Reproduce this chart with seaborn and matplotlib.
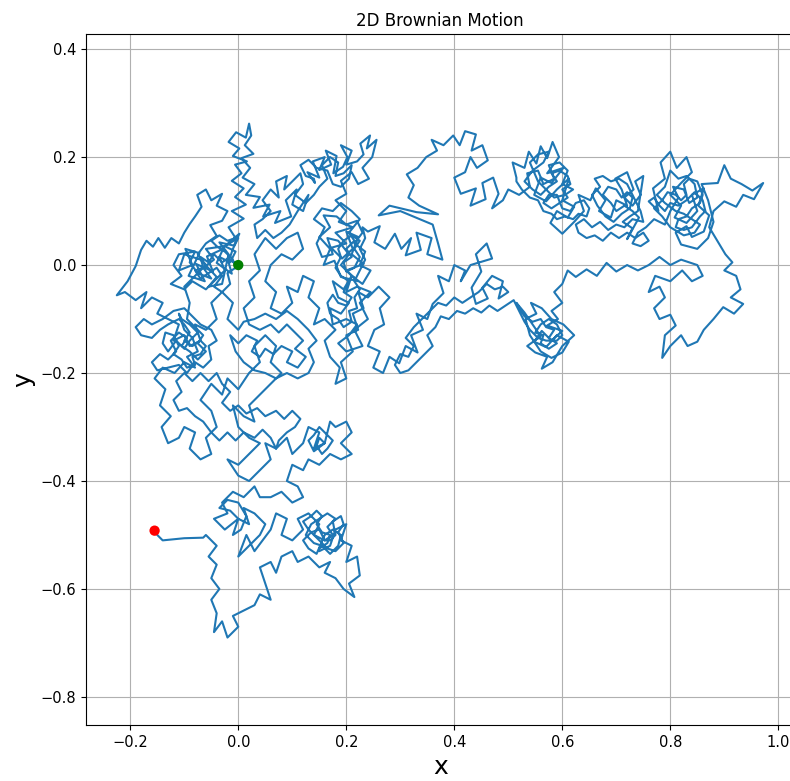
import numpy as np
import pandas as pd
import matplotlib
matplotlib.use("Agg")
import matplotlib.pyplot as plt
import seaborn as sns

# Path, in segments of (x, y), from start (green) to end (red)
seg_start = [(0.0,0.0),(-0.02,0.012),(-0.012,-0.016),(-0.04,0.004),(-0.028,0.03),(-0.058,0.016),(-0.047,-0.012),(-0.078,0.002),(-0.062,-0.03),(-0.092,-0.02),(-0.072,0.022),(-0.098,0.03),(-0.085,0.0),(-0.11,-0.01),(-0.1,0.02),(-0.07,0.01),(-0.04,-0.022),(-0.055,-0.04),(-0.03,-0.035),(-0.018,0.02),(-0.035,0.042),(-0.008,0.036),(0.002,0.058)]
cluster_a = [(-0.025,0.035),(-0.06,0.03),(-0.045,0.01),(-0.065,-0.005),(-0.05,-0.025),(-0.075,-0.015),(-0.09,0.005),(-0.08,0.025),(-0.11,0.02),(-0.12,0.0),(-0.105,-0.02),(-0.125,-0.035),(-0.1,-0.045),(-0.085,-0.03),(-0.06,-0.045),(-0.045,-0.03),(-0.025,-0.01),(-0.035,0.015),(-0.015,0.005),(-0.005,0.025),(-0.025,0.035),(0.0,0.05)]
dense_green = [(-0.01,0.03),(-0.015,0.015),(-0.03,0.005),(-0.045,0.02),(-0.055,0.005),(-0.07,0.015),(-0.065,-0.005),(-0.08,-0.01),(-0.07,-0.025),(-0.055,-0.015),(-0.04,-0.005),(-0.03,-0.02),(-0.045,-0.04),(-0.03,-0.05),(-0.015,-0.035),(-0.02,-0.015),(-0.005,-0.005),(-0.01,0.01),(-0.025,0.025),(-0.04,0.035),(-0.05,0.045),(-0.035,0.055),(-0.02,0.045),(-0.005,0.05)]
seg_arm = [(-0.018,0.07),(0.01,0.086),(-0.012,0.1),(0.014,0.112),(-0.006,0.126),(0.01,0.142),(-0.012,0.156),(0.006,0.17),(-0.006,0.186),(0.016,0.192),(-0.01,0.202),(0.002,0.216),(-0.018,0.228),(-0.004,0.246),(0.014,0.236),(0.02,0.262),(0.024,0.24),(0.012,0.222),(0.028,0.206),(0.006,0.198),(0.022,0.18),(0.008,0.162),(0.03,0.15),(0.014,0.13),(0.04,0.126),(0.028,0.106),(0.058,0.112),(0.046,0.09),(0.078,0.1),(0.068,0.078),(0.098,0.09),(0.088,0.12),(0.108,0.14),(0.1,0.112),(0.12,0.1),(0.13,0.13)]
cluster_junction = [(0.11,0.1),(0.095,0.075),(0.08,0.06),(0.065,0.05),(0.05,0.065),(0.035,0.05),(0.03,0.075),(0.045,0.085),(0.06,0.1),(0.045,0.12),(0.06,0.14),(0.075,0.125),(0.07,0.155),(0.09,0.165),(0.085,0.14),(0.1,0.155),(0.115,0.17),(0.12,0.15),(0.105,0.13),(0.125,0.115),(0.14,0.13)]
cluster_c = [(0.15,0.145),(0.165,0.16),(0.155,0.185),(0.17,0.2),(0.185,0.19),(0.18,0.165),(0.195,0.17),(0.21,0.185),(0.205,0.16),(0.19,0.145),(0.175,0.15),(0.165,0.175),(0.145,0.18),(0.13,0.195),(0.115,0.185),(0.125,0.165),(0.14,0.16)]
seg_topcenter = [(0.142,0.152),(0.128,0.172),(0.15,0.162),(0.138,0.192),(0.16,0.2),(0.15,0.176),(0.172,0.186),(0.162,0.212),(0.182,0.202),(0.176,0.17),(0.194,0.182),(0.202,0.2),(0.19,0.222),(0.21,0.212),(0.2,0.186),(0.22,0.192),(0.232,0.205),(0.226,0.225),(0.244,0.24),(0.238,0.216),(0.256,0.232),(0.248,0.2),(0.23,0.18),(0.242,0.16),(0.222,0.15),(0.21,0.172),(0.19,0.156),(0.2,0.132),(0.18,0.12),(0.2,0.1),(0.186,0.08),(0.212,0.07),(0.18,0.06),(0.2,0.04),(0.172,0.032),(0.192,0.012),(0.212,0.03),(0.2,0.062),(0.222,0.052),(0.21,0.02),(0.232,0.002),(0.2,-0.01),(0.222,-0.03),(0.19,-0.022),(0.178,0.008),(0.158,0.0),(0.17,0.03),(0.15,0.052),(0.17,0.07),(0.158,0.092),(0.182,0.09),(0.2,0.075),(0.22,0.082)]
cluster_b = [(0.23,0.06),(0.215,0.04),(0.235,0.025),(0.225,0.0),(0.245,-0.01),(0.23,-0.035),(0.21,-0.02),(0.195,-0.045),(0.175,-0.03),(0.185,-0.06),(0.205,-0.07),(0.19,-0.09),(0.17,-0.08),(0.175,-0.11),(0.2,-0.1),(0.22,-0.11),(0.205,-0.13),(0.185,-0.145),(0.2,-0.16),(0.23,-0.15),(0.215,-0.12),(0.24,-0.1),(0.225,-0.07),(0.245,-0.05),(0.22,-0.04),(0.2,-0.05),(0.21,-0.02),(0.19,0.0),(0.205,0.02),(0.185,0.045),(0.165,0.05),(0.175,0.02),(0.155,0.015),(0.145,0.04),(0.16,0.07),(0.14,0.085),(0.155,0.105),(0.175,0.1),(0.19,0.115),(0.21,0.1),(0.225,0.085)]
dense_column = [(0.205,0.06),(0.215,0.045),(0.2,0.03),(0.21,0.015),(0.195,0.005),(0.2,-0.012),(0.215,-0.005),(0.225,0.015),(0.215,0.03),(0.225,0.045),(0.21,0.055),(0.195,0.045),(0.185,0.03),(0.19,0.015),(0.18,-0.005),(0.19,-0.02),(0.205,-0.03),(0.195,-0.05),(0.21,-0.06),(0.2,-0.075),(0.185,-0.07),(0.175,-0.055),(0.165,-0.07),(0.17,-0.09),(0.185,-0.1),(0.195,-0.115),(0.21,-0.105),(0.205,-0.085),(0.22,-0.08),(0.215,-0.06),(0.225,-0.045),(0.215,-0.03),(0.225,-0.01),(0.235,0.01),(0.225,0.03),(0.235,0.05),(0.23,0.07)]
seg_east = [(0.24,0.062),(0.262,0.072),(0.252,0.042),(0.272,0.03),(0.29,0.058),(0.302,0.03),(0.32,0.05),(0.31,0.018),(0.338,0.028),(0.33,0.06),(0.358,0.05),(0.35,0.02),(0.378,0.01),(0.37,0.04),(0.36,0.075),(0.3,0.1),(0.26,0.092),(0.28,0.11),(0.33,0.098),(0.37,0.094),(0.335,0.11),(0.315,0.125),(0.325,0.148),(0.312,0.168),(0.332,0.18),(0.348,0.2),(0.368,0.212),(0.358,0.232),(0.38,0.222),(0.398,0.24),(0.41,0.222),(0.42,0.248),(0.44,0.242),(0.432,0.212),(0.452,0.222),(0.462,0.194),(0.442,0.18),(0.43,0.2),(0.42,0.172),(0.4,0.162),(0.412,0.132),(0.44,0.142),(0.43,0.11),(0.458,0.122),(0.452,0.152),(0.472,0.162),(0.482,0.132),(0.47,0.105),(0.49,0.12),(0.5,0.14)]
cluster_d = [(0.52,0.13),(0.54,0.145),(0.535,0.17),(0.555,0.175),(0.565,0.15),(0.585,0.16),(0.575,0.185),(0.595,0.19),(0.61,0.175),(0.6,0.15),(0.62,0.14),(0.605,0.13),(0.585,0.125),(0.57,0.14),(0.555,0.155),(0.54,0.19),(0.555,0.205),(0.575,0.21),(0.565,0.19),(0.545,0.175),(0.53,0.155)]
dense_right = [(0.545,0.14),(0.56,0.13),(0.575,0.145),(0.59,0.155),(0.58,0.17),(0.595,0.175),(0.61,0.165),(0.615,0.15),(0.6,0.14),(0.61,0.125),(0.595,0.115),(0.58,0.105),(0.565,0.115),(0.575,0.13),(0.59,0.13),(0.6,0.105),(0.615,0.1),(0.625,0.115),(0.64,0.12),(0.65,0.105),(0.645,0.09),(0.63,0.095),(0.62,0.085),(0.605,0.09),(0.59,0.085),(0.58,0.095),(0.565,0.1),(0.555,0.12),(0.54,0.125),(0.525,0.14),(0.515,0.155)]
seg_right = [(0.515,0.162),(0.508,0.19),(0.53,0.18),(0.538,0.21),(0.552,0.188),(0.56,0.22),(0.572,0.198),(0.582,0.228),(0.594,0.2),(0.572,0.17),(0.602,0.18),(0.58,0.152),(0.56,0.162),(0.548,0.13),(0.57,0.118),(0.59,0.14),(0.612,0.16),(0.6,0.12),(0.622,0.108),(0.61,0.088),(0.59,0.1),(0.578,0.078),(0.6,0.058),(0.622,0.08),(0.64,0.1),(0.63,0.13),(0.652,0.12),(0.662,0.142),(0.68,0.12),(0.668,0.1),(0.69,0.088),(0.7,0.12),(0.72,0.11),(0.71,0.14),(0.698,0.16),(0.72,0.172),(0.732,0.14),(0.715,0.125),(0.73,0.11),(0.745,0.13),(0.735,0.155),(0.75,0.165),(0.74,0.1),(0.725,0.09),(0.712,0.08),(0.73,0.068),(0.72,0.048),(0.742,0.088)]
dense_mid_right = [(0.73,0.1),(0.715,0.11),(0.7,0.1),(0.69,0.115),(0.675,0.13),(0.685,0.145),(0.7,0.14),(0.71,0.125),(0.72,0.135),(0.73,0.125),(0.725,0.105),(0.71,0.095),(0.695,0.08),(0.68,0.09),(0.665,0.11),(0.655,0.13),(0.67,0.145),(0.66,0.16),(0.675,0.165),(0.69,0.155),(0.705,0.16),(0.72,0.15),(0.735,0.12),(0.745,0.1),(0.75,0.08)]
fill_mid_right = [(0.73,0.085),(0.715,0.07),(0.7,0.075),(0.685,0.065),(0.67,0.08),(0.655,0.07),(0.64,0.085),(0.625,0.075),(0.63,0.06),(0.645,0.05),(0.66,0.055),(0.675,0.045),(0.69,0.06),(0.705,0.05),(0.72,0.06),(0.735,0.05),(0.75,0.06),(0.76,0.045),(0.745,0.035),(0.73,0.04),(0.74,0.06)]
cluster_e = [(0.755,0.07),(0.77,0.085),(0.79,0.075),(0.8,0.1),(0.815,0.125),(0.805,0.145),(0.825,0.14),(0.835,0.115),(0.85,0.125),(0.845,0.15),(0.83,0.165),(0.815,0.16),(0.8,0.175),(0.79,0.145),(0.775,0.13),(0.79,0.115),(0.81,0.1),(0.825,0.095),(0.84,0.085),(0.855,0.075),(0.845,0.06),(0.825,0.055),(0.8,0.07),(0.785,0.09),(0.77,0.105)]
dense_far = [(0.785,0.12),(0.795,0.135),(0.81,0.13),(0.82,0.12),(0.83,0.13),(0.825,0.15),(0.835,0.16),(0.85,0.155),(0.86,0.13),(0.855,0.115),(0.84,0.105),(0.83,0.09),(0.815,0.085),(0.81,0.07),(0.825,0.065),(0.84,0.07),(0.855,0.09),(0.865,0.1),(0.86,0.12),(0.845,0.135),(0.83,0.12),(0.815,0.11),(0.8,0.115),(0.79,0.1),(0.78,0.11),(0.77,0.125)]
seg_far_right = [(0.76,0.118),(0.778,0.1),(0.768,0.142),(0.79,0.16),(0.782,0.19),(0.8,0.21),(0.812,0.18),(0.83,0.2),(0.84,0.172),(0.82,0.152),(0.8,0.13),(0.82,0.11),(0.808,0.088),(0.83,0.078),(0.85,0.1),(0.84,0.13),(0.862,0.142),(0.852,0.11),(0.872,0.092),(0.862,0.062),(0.84,0.052),(0.83,0.072),(0.81,0.06),(0.82,0.038),(0.85,0.03),(0.87,0.05),(0.88,0.08),(0.87,0.12),(0.858,0.15),(0.888,0.152),(0.9,0.185),(0.912,0.16),(0.932,0.15),(0.952,0.138),(0.972,0.152),(0.955,0.122),(0.935,0.13),(0.922,0.108),(0.9,0.118),(0.88,0.1),(0.872,0.07),(0.89,0.04)]
seg_down_right = [(0.902,0.02),(0.915,0.005),(0.9,-0.01),(0.922,-0.02),(0.93,-0.045),(0.912,-0.06),(0.935,-0.072),(0.918,-0.09),(0.898,-0.078),(0.88,-0.1),(0.862,-0.12),(0.85,-0.142),(0.832,-0.15),(0.82,-0.13),(0.8,-0.15),(0.785,-0.172),(0.79,-0.13),(0.81,-0.112),(0.8,-0.092),(0.78,-0.1),(0.77,-0.08),(0.79,-0.06),(0.78,-0.04),(0.76,-0.05),(0.772,-0.02),(0.8,-0.03),(0.822,-0.01),(0.84,-0.03),(0.86,-0.02),(0.85,0.0),(0.82,0.01),(0.8,0.0),(0.78,0.015),(0.76,0.0),(0.74,-0.01)]
seg_link = [(0.72,0.0),(0.7,-0.012),(0.682,0.004),(0.664,-0.02),(0.645,-0.008),(0.625,-0.022),(0.61,-0.01),(0.6,-0.035),(0.585,-0.05),(0.6,-0.07),(0.58,-0.085)]
seg_low_center = [(0.592,-0.1),(0.572,-0.112),(0.6,-0.122),(0.58,-0.14),(0.562,-0.122),(0.548,-0.142),(0.57,-0.152),(0.59,-0.13),(0.612,-0.142),(0.6,-0.162),(0.58,-0.172),(0.56,-0.16),(0.54,-0.13),(0.532,-0.1),(0.552,-0.09),(0.542,-0.07),(0.562,-0.08),(0.58,-0.1),(0.602,-0.11),(0.622,-0.13),(0.6,-0.15),(0.582,-0.18),(0.562,-0.192),(0.572,-0.17),(0.55,-0.162),(0.535,-0.15),(0.56,-0.132),(0.545,-0.11),(0.53,-0.088),(0.515,-0.07)]
dense_low_center = [(0.53,-0.095),(0.545,-0.105),(0.56,-0.1),(0.57,-0.115),(0.585,-0.12),(0.575,-0.135),(0.59,-0.145),(0.575,-0.155),(0.56,-0.145),(0.565,-0.13),(0.55,-0.125),(0.56,-0.11),(0.575,-0.1),(0.59,-0.11),(0.6,-0.13),(0.59,-0.14),(0.57,-0.14),(0.555,-0.135),(0.54,-0.12),(0.53,-0.105),(0.52,-0.085),(0.51,-0.065)]
fill_east_low = [(0.495,-0.075),(0.48,-0.085),(0.465,-0.075),(0.45,-0.088),(0.435,-0.08),(0.42,-0.09),(0.405,-0.085),(0.39,-0.1),(0.375,-0.095),(0.365,-0.115),(0.35,-0.13),(0.36,-0.15),(0.345,-0.165),(0.33,-0.18),(0.315,-0.195),(0.3,-0.2),(0.29,-0.185),(0.3,-0.165),(0.315,-0.17),(0.325,-0.15),(0.31,-0.135),(0.325,-0.115),(0.34,-0.1),(0.355,-0.085),(0.37,-0.07),(0.385,-0.075),(0.4,-0.06),(0.415,-0.07),(0.43,-0.06),(0.445,-0.05),(0.46,-0.035),(0.475,-0.045),(0.49,-0.04)]
seg_west_a = [(0.5,-0.05),(0.482,-0.062),(0.49,-0.03),(0.47,-0.02),(0.452,-0.042),(0.462,-0.062),(0.44,-0.072),(0.432,-0.042),(0.45,-0.012),(0.44,0.02),(0.46,0.04),(0.47,0.012),(0.43,0.0),(0.412,-0.03),(0.42,-0.01),(0.4,0.0),(0.39,-0.03),(0.37,-0.02),(0.38,-0.052),(0.36,-0.072),(0.35,-0.1),(0.33,-0.09),(0.342,-0.12),(0.32,-0.13),(0.332,-0.162),(0.31,-0.15),(0.298,-0.182),(0.28,-0.17),(0.268,-0.2),(0.25,-0.19),(0.262,-0.16),(0.24,-0.15),(0.252,-0.12),(0.27,-0.11),(0.262,-0.08),(0.28,-0.06),(0.26,-0.04),(0.24,-0.06),(0.222,-0.05),(0.232,-0.08),(0.212,-0.09),(0.222,-0.12),(0.2,-0.13),(0.212,-0.16),(0.19,-0.18),(0.2,-0.21),(0.18,-0.22),(0.188,-0.19),(0.17,-0.17),(0.16,-0.14),(0.18,-0.12),(0.16,-0.1),(0.14,-0.11),(0.15,-0.08),(0.13,-0.06),(0.14,-0.03),(0.12,-0.02),(0.11,-0.05),(0.09,-0.04),(0.1,-0.07),(0.08,-0.09),(0.06,-0.08),(0.07,-0.05),(0.05,-0.03),(0.06,0.0),(0.08,0.02),(0.1,0.01),(0.12,0.03),(0.11,0.06),(0.09,0.05),(0.07,0.03),(0.05,0.05),(0.03,0.02),(0.04,-0.01),(0.02,-0.03),(0.03,-0.06),(0.01,-0.08),(0.02,-0.11)]
cluster_h = [(0.04,-0.12),(0.06,-0.11),(0.075,-0.125),(0.09,-0.11),(0.105,-0.125),(0.12,-0.14),(0.105,-0.155),(0.125,-0.17),(0.11,-0.19),(0.09,-0.18),(0.1,-0.16),(0.08,-0.15),(0.065,-0.165),(0.05,-0.155),(0.04,-0.17),(0.025,-0.16),(0.035,-0.14),(0.015,-0.13),(0.0,-0.145),(-0.015,-0.13),(-0.005,-0.16),(0.01,-0.18),(0.03,-0.195),(0.05,-0.2),(0.07,-0.21),(0.09,-0.2),(0.11,-0.21),(0.13,-0.2),(0.14,-0.18),(0.13,-0.155),(0.145,-0.14),(0.13,-0.12),(0.11,-0.1),(0.09,-0.085),(0.07,-0.1),(0.05,-0.09),(0.03,-0.1),(0.01,-0.105),(0.0,-0.12)]
seg_west_b = [(-0.02,-0.1),(-0.01,-0.07),(-0.03,-0.05),(-0.05,-0.07),(-0.04,-0.1),(-0.06,-0.12),(-0.08,-0.11),(-0.07,-0.14),(-0.09,-0.15),(-0.1,-0.13),(-0.12,-0.14),(-0.11,-0.11),(-0.13,-0.1),(-0.15,-0.09),(-0.14,-0.07),(-0.16,-0.06),(-0.18,-0.08),(-0.17,-0.05),(-0.19,-0.065),(-0.21,-0.05),(-0.225,-0.056)]
seg_left_branch = [(-0.205,-0.03),(-0.19,-0.002),(-0.18,0.028),(-0.17,0.045),(-0.158,0.034),(-0.148,0.05),(-0.136,0.032),(-0.124,0.05),(-0.11,0.04),(-0.1,0.06),(-0.09,0.076),(-0.08,0.09),(-0.068,0.108),(-0.076,0.13),(-0.06,0.14),(-0.05,0.12),(-0.03,0.132),(-0.04,0.11),(-0.02,0.1),(-0.03,0.082),(-0.052,0.074),(-0.04,0.054),(-0.06,0.04),(-0.075,0.02),(-0.06,0.0),(-0.08,-0.02),(-0.1,-0.04),(-0.09,-0.07)]
cluster_g = [(-0.095,-0.1),(-0.08,-0.115),(-0.065,-0.13),(-0.075,-0.145),(-0.06,-0.16),(-0.075,-0.175),(-0.09,-0.16),(-0.105,-0.15),(-0.095,-0.135),(-0.11,-0.125),(-0.125,-0.14),(-0.115,-0.16),(-0.13,-0.175),(-0.145,-0.165),(-0.16,-0.18),(-0.15,-0.195),(-0.13,-0.19),(-0.11,-0.185),(-0.095,-0.2),(-0.08,-0.18),(-0.065,-0.19),(-0.05,-0.175),(-0.055,-0.15),(-0.04,-0.14),(-0.05,-0.12),(-0.07,-0.11),(-0.085,-0.095),(-0.1,-0.08),(-0.12,-0.085),(-0.14,-0.1),(-0.16,-0.11),(-0.175,-0.1),(-0.19,-0.115),(-0.18,-0.13),(-0.16,-0.135),(-0.145,-0.12),(-0.13,-0.11),(-0.11,-0.1)]
dense_left = [(-0.1,-0.11),(-0.09,-0.125),(-0.1,-0.14),(-0.085,-0.15),(-0.07,-0.14),(-0.06,-0.15),(-0.07,-0.165),(-0.085,-0.17),(-0.08,-0.185),(-0.095,-0.19),(-0.105,-0.175),(-0.12,-0.165),(-0.11,-0.15),(-0.12,-0.13),(-0.135,-0.125),(-0.14,-0.145),(-0.13,-0.16),(-0.115,-0.14),(-0.1,-0.155),(-0.09,-0.14),(-0.075,-0.125),(-0.09,-0.11),(-0.105,-0.1)]
seg_left_mid = [(-0.11,-0.09),(-0.1,-0.12),(-0.085,-0.135),(-0.075,-0.16),(-0.095,-0.17),(-0.08,-0.19),(-0.1,-0.18),(-0.118,-0.2),(-0.14,-0.19),(-0.155,-0.21),(-0.135,-0.23),(-0.145,-0.26),(-0.125,-0.28),(-0.142,-0.3),(-0.13,-0.33),(-0.11,-0.32),(-0.1,-0.3),(-0.08,-0.31),(-0.09,-0.34),(-0.07,-0.36),(-0.05,-0.35),(-0.06,-0.32),(-0.04,-0.3),(-0.05,-0.27),(-0.07,-0.25),(-0.05,-0.22),(-0.03,-0.24),(-0.02,-0.21),(0.0,-0.23),(0.02,-0.2),(0.04,-0.18),(0.03,-0.15),(0.05,-0.13),(0.07,-0.15),(0.06,-0.18),(0.08,-0.2),(0.06,-0.22),(0.04,-0.24),(0.02,-0.26),(0.03,-0.29),(0.01,-0.28),(-0.01,-0.26),(0.0,-0.3),(0.02,-0.32),(0.04,-0.33),(0.02,-0.35),(0.0,-0.37),(-0.02,-0.36),(0.0,-0.39),(0.02,-0.4),(0.04,-0.38),(0.06,-0.36),(0.05,-0.33),(0.07,-0.34)]
fill_lower_left = [(0.06,-0.32),(0.045,-0.305),(0.03,-0.32),(0.01,-0.31),(-0.005,-0.325),(-0.02,-0.31),(-0.035,-0.325),(-0.05,-0.31),(-0.065,-0.29),(-0.08,-0.28),(-0.095,-0.265),(-0.11,-0.27),(-0.12,-0.25),(-0.105,-0.235),(-0.115,-0.215),(-0.1,-0.2),(-0.085,-0.215),(-0.07,-0.2),(-0.055,-0.215),(-0.04,-0.2),(-0.03,-0.22),(-0.015,-0.235),(-0.03,-0.255),(-0.015,-0.27),(0.0,-0.26),(0.015,-0.275),(0.035,-0.265),(0.05,-0.28),(0.07,-0.27),(0.085,-0.285),(0.1,-0.27),(0.115,-0.285),(0.105,-0.3),(0.09,-0.31),(0.075,-0.325),(0.07,-0.34)]
seg_low_mid_a = [(0.09,-0.32),(0.1,-0.35),(0.12,-0.33),(0.13,-0.3),(0.15,-0.31),(0.14,-0.34),(0.16,-0.33)]
cluster_j = [(0.15,-0.32),(0.145,-0.335),(0.155,-0.35),(0.165,-0.34),(0.175,-0.325),(0.16,-0.31),(0.15,-0.3),(0.14,-0.315),(0.13,-0.325),(0.14,-0.345),(0.16,-0.33)]
seg_low_mid_b = [(0.17,-0.29),(0.18,-0.3),(0.2,-0.29),(0.21,-0.31),(0.19,-0.33),(0.21,-0.35),(0.19,-0.36),(0.17,-0.35),(0.15,-0.37),(0.13,-0.36),(0.12,-0.38),(0.1,-0.37),(0.09,-0.4),(0.11,-0.41),(0.12,-0.43),(0.1,-0.44),(0.08,-0.42),(0.06,-0.43)]
seg_bottom_a = [(0.04,-0.43),(0.03,-0.41),(0.01,-0.43),(-0.01,-0.42),(-0.03,-0.44),(-0.02,-0.46),(-0.045,-0.47),(-0.025,-0.49),(0.0,-0.47)]
cluster_l = [(-0.015,-0.455),(-0.035,-0.45),(-0.02,-0.435),(0.0,-0.44),(0.015,-0.465),(0.005,-0.49),(-0.01,-0.5),(0.0,-0.47)]
seg_bottom_b = [(0.02,-0.48),(0.01,-0.45),(0.03,-0.46),(0.05,-0.48),(0.04,-0.5),(0.02,-0.52),(0.0,-0.54),(0.015,-0.5),(0.03,-0.53),(0.06,-0.49),(0.07,-0.46),(0.09,-0.47),(0.08,-0.5),(0.1,-0.51),(0.12,-0.49),(0.11,-0.47),(0.13,-0.46),(0.15,-0.48),(0.14,-0.5),(0.16,-0.51)]
cluster_i = [(0.175,-0.5),(0.165,-0.485),(0.18,-0.47),(0.165,-0.46),(0.15,-0.47),(0.135,-0.48),(0.125,-0.5),(0.14,-0.515),(0.155,-0.52),(0.17,-0.535),(0.185,-0.52),(0.19,-0.5),(0.175,-0.49),(0.16,-0.5),(0.145,-0.535),(0.13,-0.525),(0.12,-0.51),(0.135,-0.495),(0.15,-0.49),(0.16,-0.51)]
dense_bottom = [(0.17,-0.51),(0.18,-0.5),(0.175,-0.475),(0.19,-0.465),(0.195,-0.48),(0.185,-0.495),(0.195,-0.515),(0.18,-0.53),(0.165,-0.525),(0.15,-0.51),(0.14,-0.5),(0.13,-0.49),(0.12,-0.475),(0.135,-0.465),(0.145,-0.455),(0.155,-0.465),(0.145,-0.48),(0.155,-0.495),(0.17,-0.5),(0.165,-0.515),(0.15,-0.525)]
seg_bottom_c = [(0.15,-0.53),(0.17,-0.52),(0.18,-0.49),(0.2,-0.48),(0.19,-0.51),(0.21,-0.52),(0.2,-0.55),(0.22,-0.54),(0.225,-0.575),(0.205,-0.59),(0.215,-0.615),(0.195,-0.6),(0.18,-0.58),(0.16,-0.57),(0.17,-0.55),(0.15,-0.56),(0.13,-0.54),(0.11,-0.55),(0.1,-0.53),(0.08,-0.54),(0.07,-0.57),(0.06,-0.55),(0.04,-0.56),(0.05,-0.59),(0.06,-0.62),(0.04,-0.61),(0.03,-0.63),(0.01,-0.64),(-0.01,-0.65),(0.0,-0.67),(-0.02,-0.69),(-0.03,-0.66),(-0.045,-0.68),(-0.04,-0.645),(-0.05,-0.62),(-0.035,-0.6),(-0.05,-0.58),(-0.04,-0.555),(-0.055,-0.54),(-0.04,-0.52),(-0.06,-0.5),(-0.065,-0.505)]
seg_tail = [(-0.1,-0.506),(-0.14,-0.51),(-0.15,-0.5),(-0.155,-0.492)]

segments = [seg_start, cluster_a, dense_green, seg_arm, cluster_junction, cluster_c,
            seg_topcenter, cluster_b, dense_column, seg_east, cluster_d, dense_right,
            seg_right, dense_mid_right, fill_mid_right, cluster_e, dense_far,
            seg_far_right, seg_down_right, seg_link, seg_low_center, dense_low_center,
            fill_east_low, seg_west_a, cluster_h, seg_west_b, seg_left_branch,
            cluster_g, dense_left, seg_left_mid, fill_lower_left, seg_low_mid_a,
            cluster_j, seg_low_mid_b, seg_bottom_a, cluster_l, seg_bottom_b,
            cluster_i, dense_bottom, seg_bottom_c, seg_tail]
pts = np.array([p for s in segments for p in s])
df = pd.DataFrame({"x": pts[:, 0], "y": pts[:, 1]})
ends = pd.DataFrame({"x": [df.x.iloc[0], df.x.iloc[-1]],
                     "y": [df.y.iloc[0], df.y.iloc[-1]],
                     "kind": ["start", "end"]})

W, H = 790, 781
fig = plt.figure(figsize=(W / 100, H / 100), dpi=100)
ax = fig.add_axes([86 / W, 56 / H, 708.5 / W, 691 / H])

sns.lineplot(data=df, x="x", y="y", sort=False, estimator=None, ax=ax,
             color="#1f77b4", linewidth=1.5)
sns.scatterplot(data=ends, x="x", y="y", hue="kind",
                palette={"start": "green", "end": "red"}, s=55, linewidth=0,
                ax=ax, zorder=5, legend=False)

ax.set_xlim(-0.282, 1.03)
ax.set_ylim(-0.852, 0.428)
ax.set_xticks([-0.2, 0.0, 0.2, 0.4, 0.6, 0.8, 1.0])
ax.set_yticks([-0.8, -0.6, -0.4, -0.2, 0.0, 0.2, 0.4])
ax.tick_params(labelsize=10.5)
ax.grid(True, color="#b0b0b0", linewidth=0.8)
ax.set_axisbelow(True)
ax.set_title("2D Brownian Motion", fontsize=12)
ax.set_xlabel("x", fontsize=18)
ax.set_ylabel("y", fontsize=18)

fig.savefig("out.png", dpi=100)
